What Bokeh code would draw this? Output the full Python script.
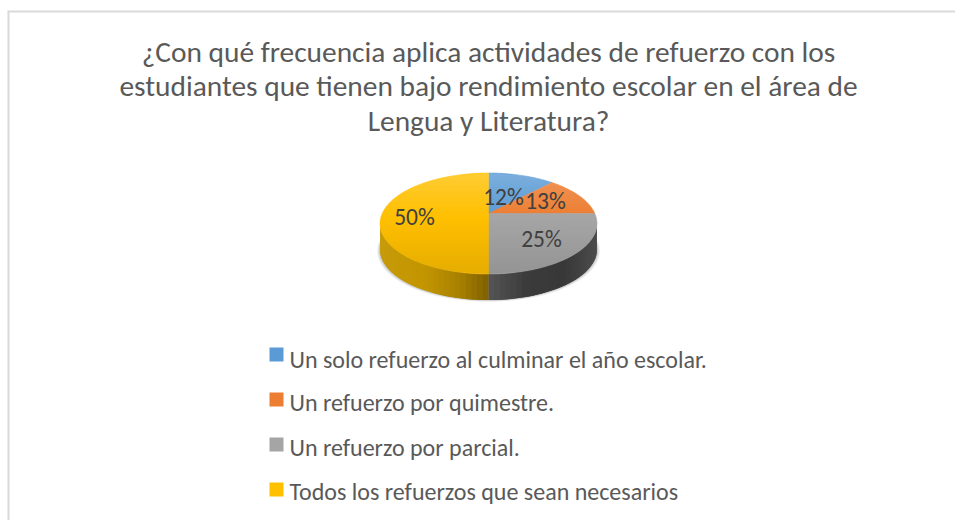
import math
from bokeh.core.properties import value
from bokeh.embed import file_html
from bokeh.models import Range1d
from bokeh.plotting import figure
from bokeh.resources import INLINE

title_lines = [
    "¿Con qué frecuencia aplica actividades de refuerzo con los",
    "estudiantes que tienen bajo rendimiento escolar en el área de",
    "Lengua y Literatura?",
]
categories = [
    "Un solo refuerzo al culminar el año escolar.",
    "Un refuerzo por quimestre.",
    "Un refuerzo por parcial.",
    "Todos los refuerzos que sean necesarios",
]
shares = [12, 13, 25, 50]
colors = ["#5b9bd5", "#ed7d31", "#a5a5a5", "#ffc000"]
label_pos = [(503, 196), (545, 200), (541, 238), (414, 216)]
legend_y = [354, 399, 444, 489]
legend_text_y = [359, 402, 447, 491]

FONT = value("Carlito, Lato")
CX, CY, RX, RY, DEPTH, K = 488, 223, 108.5, 50.5, 26, 0.2


def rim(frac):
    """Clockwise-from-top share of the pie -> point on the tilted rim."""
    th = 2 * math.pi * frac
    u, v = math.sin(th), math.cos(th)
    d = 1 + K * v
    return CX + RX * u * math.sqrt(1 - K * K) / d, CY - RY * (v + K) / d


def mix(stops, t):
    for (t0, c0), (t1, c1) in zip(stops, stops[1:]):
        if t <= t1:
            f = (t - t0) / (t1 - t0)
            rgb = [
                round(int(c0[i:i + 2], 16) * (1 - f) + int(c1[i:i + 2], 16) * f)
                for i in (1, 3, 5)
            ]
            return "#%02x%02x%02x" % tuple(rgb)
    return stops[-1][1]


p = figure(width=955, height=520, output_backend="svg", toolbar_location=None,
           x_range=Range1d(0, 955), y_range=Range1d(520, 0), min_border=0,
           outline_line_color=None)
p.xaxis.visible = False
p.yaxis.visible = False
p.grid.visible = False

# chart frame
p.line([8, 8], [520, 11], line_color="#d9d9d9", line_width=2)
p.line([7, 955], [11, 11], line_color="#d9d9d9", line_width=2)

# soft shadow under the pie
for grow, alpha in [(3, 0.05), (2, 0.07), (1, 0.1)]:
    xs = [CX + (RX + grow) * math.cos(math.pi * i / 90) for i in range(181)]
    ys = [CY + DEPTH + grow * 0.6 + RY * math.sin(math.pi * i / 90) for i in range(181)]
    p.patch(xs, ys, fill_color="#000000", fill_alpha=alpha, line_color=None)

# side wall: vertical strips painted from the right, each overlapping the next
yellow_side = [(-1.0, "#c69a0a"), (-0.6, "#c39600"), (-0.25, "#a67f00"), (0.0, "#7f6000")]
grey_side = [(0.0, "#555555"), (0.35, "#3b3b3b"), (0.7, "#383838"), (1.0, "#4c4c4c")]
N = 60
for i in range(N):
    a0 = math.pi * i / N
    a1 = min(math.pi * (i + 2) / N, math.pi)
    x0, x1 = CX + RX * math.cos(a0), CX + RX * math.cos(a1)
    y0, y1 = CY + RY * math.sin(a0), CY + RY * math.sin(a1)
    xm = CX + RX * math.cos(math.pi * (i + 0.5) / N)
    t = (xm - CX) / RX
    c = mix(grey_side, t) if t >= 0 else mix(yellow_side, t)
    if t >= 0:
        xc = max(x1, CX)
        yc = CY + RY * math.sqrt(max(0.0, 1 - ((xc - CX) / RX) ** 2))
    else:
        xc, yc = x1, y1
    ym = CY + RY * math.sin(math.pi * (i + 1) / N)
    xm2 = CX + RX * math.cos(math.pi * (i + 1) / N)
    p.patch([x0, xm2, xc, xc, xm2, x0],
            [y0, ym, yc, yc + DEPTH, ym + DEPTH, y0 + DEPTH],
            fill_color=c, line_color=None)

# top face: one patch per share
total = sum(shares)
start = 0
for s, c in zip(shares, colors):
    n = max(3, int(s * 3))
    pts = [rim((start + s * j / n) / total) for j in range(n + 1)]
    apex = (CX, CY - RY * K)
    p.patch([apex[0]] + [q[0] for q in pts], [apex[1]] + [q[1] for q in pts],
            fill_color=c, line_color=c, line_width=0.5)
    start += s

# vertical sheen on the top face
B = 50
half = lambda y: RX * math.sqrt(max(0.0, 1 - ((y - CY) / RY) ** 2))
for i in range(B):
    y0 = CY - RY + 2 * RY * i / B
    y1 = CY - RY + 2 * RY * (i + 1) / B
    t = (0.5 * (y0 + y1) - (CY - RY)) / (2 * RY)
    w0, w1 = half(y0), half(y1)
    if t < 0.45:
        col, al = "#ffffff", 0.2 * (0.45 - t) / 0.45
    else:
        col, al = "#000000", 0.1 * (t - 0.45) / 0.55
    p.patch([CX - w0, CX + w0, CX + w1, CX - w1], [y0, y0, y1, y1],
            fill_color=col, fill_alpha=al, line_color=None)

# data labels
p.text([q[0] for q in label_pos], [q[1] for q in label_pos],
       text=[f"{s}%" for s in shares], text_font=FONT, text_font_size="23.5px",
       text_color="#404040", text_align="center", text_baseline="middle")

# title
p.text([488] * 3, [51, 85, 120], text=title_lines, text_font=FONT,
       text_font_size="29.4px", text_color="#595959", text_align="center",
       text_baseline="middle")

# legend
p.rect([276] * 4, legend_y, width=14, height=14, fill_color=colors, line_color=None)
p.text([289] * 4, legend_text_y, text=categories, text_font=FONT,
       text_font_size="24px", text_color="#595959", text_align="left",
       text_baseline="middle")

open("out.html", "w").write(file_html(p, INLINE))
